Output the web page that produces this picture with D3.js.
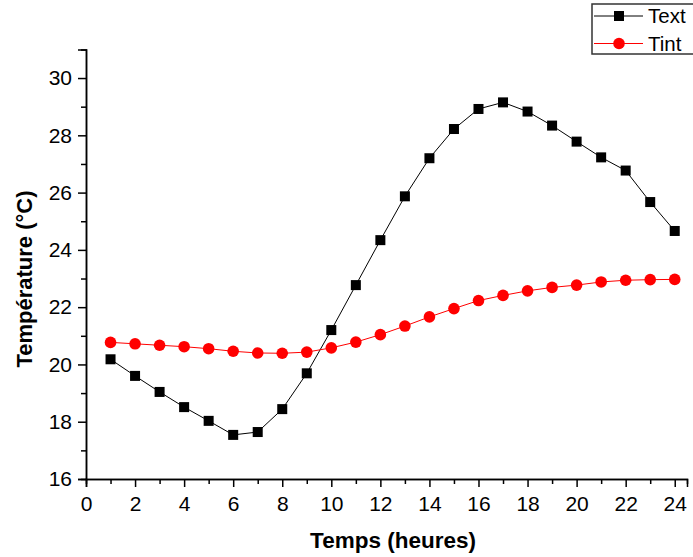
<!DOCTYPE html>
<html>
<head>
<meta charset="utf-8">
<script src="https://cdn.jsdelivr.net/npm/d3@7"></script>
<style>
  body { margin: 0; background: #fff; }
  svg text { font-family: Arial, "Liberation Sans", sans-serif; }
</style>
</head>
<body>
<svg id="chart" width="693" height="557"></svg>
<script>
// =======================
//  Data
// =======================

var hours = d3.range(1, 25);
var textTemps = [20.18, 19.6, 19.04, 18.51, 18.03, 17.54, 17.64, 18.44, 19.69, 21.2, 22.77, 24.34,
                 25.87, 27.2, 28.22, 28.92, 29.15, 28.83, 28.34, 27.78, 27.23, 26.77, 25.67, 24.66];
var tintTemps = [20.77, 20.72, 20.67, 20.62, 20.55, 20.46, 20.4, 20.39, 20.43, 20.58, 20.78, 21.04,
                 21.34, 21.66, 21.95, 22.23, 22.41, 22.57, 22.69, 22.77, 22.88, 22.94, 22.96, 22.97];
var xTicks = d3.range(0, 25, 2);
var yTicks = d3.range(16, 31, 2);
var seriesNames = ["Text", "Tint"];

// =======================
//  Scales + axes
// =======================

var svg = d3.select("#chart");
var x = d3.scaleLinear().domain([0, 24.5]).range([86, 687]);
var y = d3.scaleLinear().domain([16, 31]).range([479, 49.4]);

// minor ticks first, then the labelled ones
var gx = svg.append("g").attr("transform", "translate(0,479)");
gx.call(d3.axisBottom(x).tickValues(d3.range(1, 25, 2)).tickSize(5).tickFormat(""));
gx.append("g").call(d3.axisBottom(x).tickValues(xTicks).tickSize(8).tickPadding(9).tickFormat(d3.format("d")));

var gy = svg.append("g").attr("transform", "translate(86,0)");
gy.call(d3.axisLeft(y).tickValues(d3.range(17, 31, 2)).tickSize(5).tickFormat(""));
gy.append("g").call(d3.axisLeft(y).tickValues(yTicks).tickSize(8).tickPadding(6).tickFormat(d3.format("d")));

svg.selectAll(".domain").attr("stroke", "#000").attr("stroke-width", 1.5);
svg.selectAll(".tick line").attr("stroke", "#000").attr("stroke-width", 1.5);
svg.selectAll(".tick text").attr("font-size", 21).attr("fill", "#000");

// axis titles
svg.append("text")
    .attr("x", 393).attr("y", 548)
    .attr("text-anchor", "middle")
    .attr("font-size", 22.5).attr("font-weight", "bold")
    .text("Temps (heures)");

svg.append("text")
    .attr("transform", "translate(32,279) rotate(-90)")
    .attr("text-anchor", "middle")
    .attr("font-size", 22).attr("font-weight", "bold")
    .text("Température (°C)");

// =======================
//  Series
// =======================

var line = d3.line().x((d, i) => x(hours[i])).y(d => y(d));

svg.append("path").datum(textTemps)
    .attr("d", line).attr("fill", "none").attr("stroke", "#000").attr("stroke-width", 1);
svg.append("path").datum(tintTemps)
    .attr("d", line).attr("fill", "none").attr("stroke", "#ff0000").attr("stroke-width", 1);

svg.append("g").selectAll("rect")
    .data(textTemps).join("rect")
    .attr("x", (d, i) => x(hours[i]) - 5)
    .attr("y", d => y(d) - 5)
    .attr("width", 10).attr("height", 10)
    .attr("fill", "#000");

svg.append("g").selectAll("circle")
    .data(tintTemps).join("circle")
    .attr("cx", (d, i) => x(hours[i]))
    .attr("cy", d => y(d))
    .attr("r", 5.8)
    .attr("fill", "#ff0000");

// =======================
//  Legend
// =======================

var legend = svg.append("g");
legend.append("rect")
    .attr("x", 592).attr("y", 4).attr("width", 110).attr("height", 50)
    .attr("fill", "#fff").attr("stroke", "#333").attr("stroke-width", 1.5);

var legColors = ["#000", "#ff0000"];
seriesNames.forEach(function(name, i) {
    var ly = 16 + i * 27.5;
    legend.append("line")
        .attr("x1", 594).attr("x2", 643).attr("y1", ly).attr("y2", ly)
        .attr("stroke", legColors[i]).attr("stroke-width", 1);
    if (i === 0) {
        legend.append("rect").attr("x", 614).attr("y", ly - 5).attr("width", 10).attr("height", 10).attr("fill", "#000");
    } else {
        legend.append("circle").attr("cx", 619).attr("cy", ly).attr("r", 5.8).attr("fill", "#ff0000");
    }
    legend.append("text")
        .attr("x", 648).attr("y", ly + 7)
        .attr("font-size", 20.5)
        .text(name);
});
</script>
</body>
</html>
